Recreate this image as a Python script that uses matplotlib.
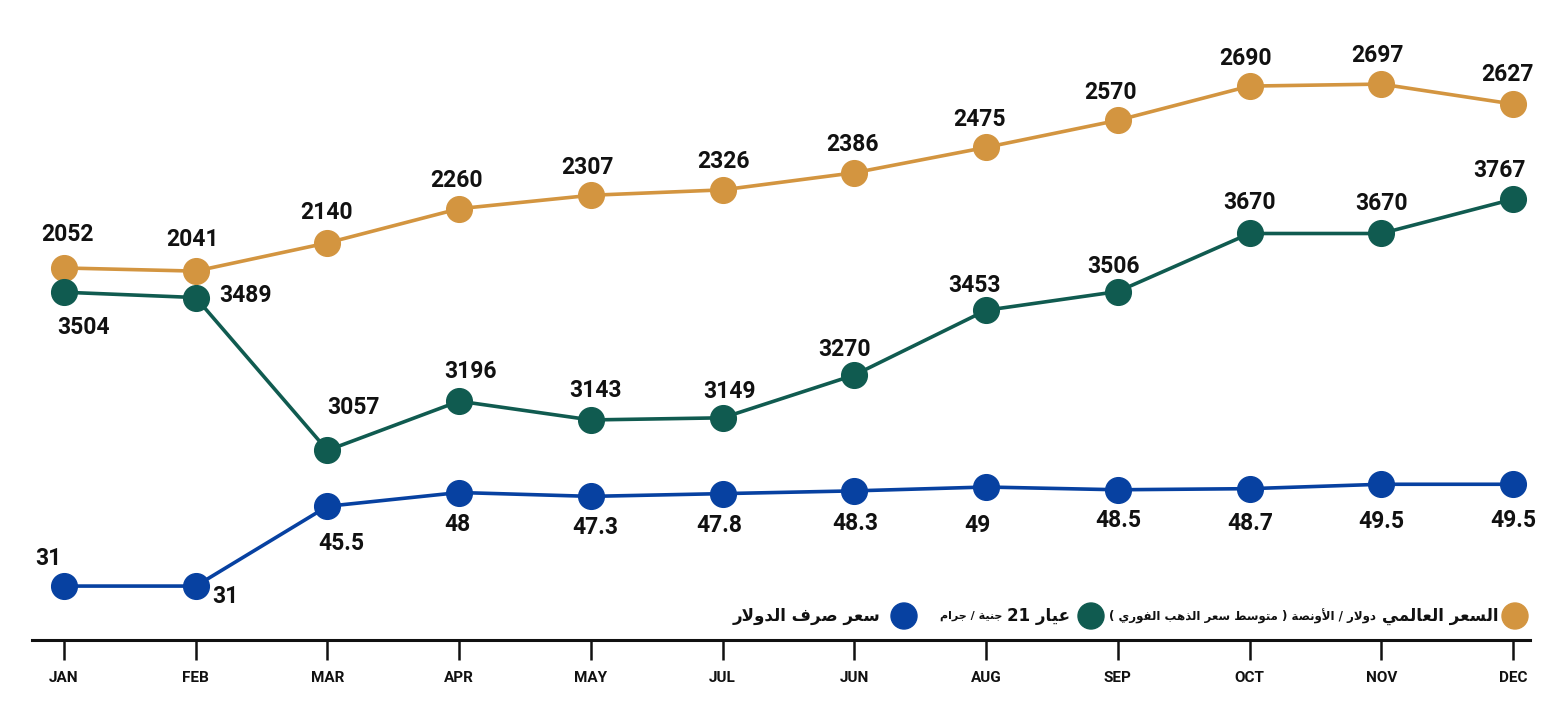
import matplotlib
matplotlib.use("Agg")
import matplotlib.pyplot as plt

# ---------------- data ----------------
months = ["JAN", "FEB", "MAR", "APR", "MAY", "JUL", "JUN", "AUG", "SEP", "OCT", "NOV", "DEC"]
world_price = [2052, 2041, 2140, 2260, 2307, 2326, 2386, 2475, 2570, 2690, 2697, 2627]
gold21_price = [3504, 3489, 3057, 3196, 3143, 3149, 3270, 3453, 3506, 3670, 3670, 3767]
dollar_rate = [31, 31, 45.5, 48, 47.3, 47.8, 48.3, 49, 48.5, 48.7, 49.5, 49.5]
dollar_labels = ["31", "31", "45.5", "48", "47.3", "47.8", "48.3", "49", "48.5", "48.7", "49.5", "49.5"]

legend_world_main = "السعر العالمي"
legend_world_sub = "دولار / الأونصة ( متوسط سعر الذهب الفوري )"
legend_gold_main = "عيار 21"
legend_gold_sub = "جنية / جرام"
legend_dollar = "سعر صرف الدولار"

GOLD = "#D39540"
GREEN = "#105B50"
BLUE = "#0741A1"
INK = "#111111"

# ------------- minimal Arabic shaping (presentation forms) -------------
FORMS = {
    'ا': ('\uFE8D', '\uFE8E', None, None),
    'أ': ('\uFE83', '\uFE84', None, None),
    'ب': ('\uFE8F', '\uFE90', '\uFE91', '\uFE92'),
    'ة': ('\uFE93', '\uFE94', None, None),
    'ت': ('\uFE95', '\uFE96', '\uFE97', '\uFE98'),
    'ج': ('\uFE9D', '\uFE9E', '\uFE9F', '\uFEA0'),
    'د': ('\uFEA9', '\uFEAA', None, None),
    'ذ': ('\uFEAB', '\uFEAC', None, None),
    'ر': ('\uFEAD', '\uFEAE', None, None),
    'س': ('\uFEB1', '\uFEB2', '\uFEB3', '\uFEB4'),
    'ص': ('\uFEB9', '\uFEBA', '\uFEBB', '\uFEBC'),
    'ط': ('\uFEC1', '\uFEC2', '\uFEC3', '\uFEC4'),
    'ع': ('\uFEC9', '\uFECA', '\uFECB', '\uFECC'),
    'ف': ('\uFED1', '\uFED2', '\uFED3', '\uFED4'),
    'ل': ('\uFEDD', '\uFEDE', '\uFEDF', '\uFEE0'),
    'م': ('\uFEE1', '\uFEE2', '\uFEE3', '\uFEE4'),
    'ن': ('\uFEE5', '\uFEE6', '\uFEE7', '\uFEE8'),
    'ه': ('\uFEE9', '\uFEEA', '\uFEEB', '\uFEEC'),
    'و': ('\uFEED', '\uFEEE', None, None),
    'ي': ('\uFEF1', '\uFEF2', '\uFEF3', '\uFEF4'),
}
LAM_ALEF = {'ا': ('\uFEFB', '\uFEFC'), 'أ': ('\uFEF7', '\uFEF8')}
MIRROR = {'(': ')', ')': '('}


def shape_word(word):
    units = []
    i = 0
    while i < len(word):
        c = word[i]
        if c == 'ل' and i + 1 < len(word) and word[i + 1] in LAM_ALEF:
            units.append(('LA', word[i + 1]))
            i += 2
        else:
            units.append((c, None))
            i += 1

    def joins_left(u):
        return u[0] != 'LA' and u[0] in FORMS and FORMS[u[0]][2] is not None

    out = []
    for k, (c, extra) in enumerate(units):
        prev = units[k - 1] if k > 0 else None
        jp = prev is not None and joins_left(prev)
        if c == 'LA':
            out.append(LAM_ALEF[extra][1 if jp else 0])
            continue
        if c not in FORMS:
            out.append(c)
            continue
        f = FORMS[c]
        nxt = units[k + 1] if k + 1 < len(units) else None
        jn = f[2] is not None and nxt is not None and (nxt[0] == 'LA' or nxt[0] in FORMS)
        if jp and jn:
            out.append(f[3])
        elif jp:
            out.append(f[1])
        elif jn:
            out.append(f[2])
        else:
            out.append(f[0])
    return ''.join(out)


def is_arabic(tok):
    return any('\u0600' <= ch <= '\u06FF' for ch in tok)


def visual(text):
    toks = text.split(' ')
    res = []
    for t in toks:
        if is_arabic(t):
            res.append(shape_word(t)[::-1])
        else:
            res.append(MIRROR.get(t, t))
    return ' '.join(res[::-1])


# ---------------- figure ----------------
W, H = 1561, 724
fig = plt.figure(figsize=(W / 100, H / 100), dpi=100)
fig.patch.set_facecolor("white")

ax_left, ax_right, ax_bottom = 32, 1530, 640
rect = [ax_left / W, (H - ax_bottom) / H, (ax_right - ax_left) / W, ax_bottom / H]
ax = fig.add_axes(rect)
x = list(range(len(months)))
px_per = (1513 - 64) / 11
ax.set_xlim(-(64 - ax_left) / px_per, 11 + (ax_right - 1513) / px_per)
ax.set_ylim(0, 1)
for s in ["top", "right", "left"]:
    ax.spines[s].set_visible(False)
ax.spines["bottom"].set_linewidth(2.2)
ax.spines["bottom"].set_color(INK)
ax.set_yticks([])
ax.set_xticks(x)
ax.set_xticklabels(months, fontfamily="Roboto", fontweight="bold", fontsize=11, color=INK)
ax.tick_params(axis="x", length=14.5, width=1.8, color=INK, pad=7.5, direction="out")
ax.patch.set_alpha(0)

lbl_font = dict(fontfamily="Roboto", fontweight="bold", fontsize=16.5, color=INK)


def series(ylim, vals, labels, color, offsets, z):
    a = fig.add_axes(rect, sharex=ax)
    a.set_ylim(*ylim)
    a.axis("off")
    a.patch.set_alpha(0)
    a.plot(x, vals, color=color, lw=2.6, marker="o", markersize=18.5,
           markerfacecolor=color, markeredgecolor=color, zorder=z, clip_on=False,
           solid_capstyle="round")
    for xi, v, lab, (dx, dy) in zip(x, vals, labels, offsets):
        a.annotate(lab, (xi, v), xytext=(dx, -dy), textcoords="offset pixels",
                   ha="center", va="center", annotation_clip=False, **lbl_font)
    return a


# world price (gold)
g_off = [(3, -33), (-3, -32), (-1, -30), (-3, -28), (-3, -28), (1, -28), (-2, -28),
         (-7, -28), (-7, -28), (-4, -28), (-4, -29), (-5, -30)]
series((747, 2992), world_price, [str(v) for v in world_price], GOLD, g_off, 3)

# 21 karat (green)
gr_off = [(19, 35), (50, -2), (26, -43), (11, -30), (5, -29), (7, -26), (-10, -26),
          (-12, -25), (-4, -25), (0, -31), (0, -30), (-14, -29)]
series((2521, 4330), gold21_price, [str(v) for v in gold21_price], GREEN, gr_off, 3)

# dollar rate (blue)
b_off = [(-16, -28), (30, 10), (14, 37), (-2, 32), (4, 31), (-3, 32), (1, 33),
         (-9, 38), (0, 31), (1, 35), (0, 37), (0, 36)]
series((21.2, 137.5), dollar_rate, dollar_labels, BLUE, b_off, 3)

# ---------------- legend ----------------
leg_y = 616
fy = (H - leg_y) / H
renderer = fig.canvas.get_renderer()


def circle(xc, color):
    fig.add_artist(matplotlib.patches.Ellipse((xc / W, fy), 26 / W, 26 / H,
                                              transform=fig.transFigure,
                                              color=color, zorder=5))


def rtext(x_right, s, size):
    t = fig.text(x_right / W, fy, visual(s), ha="right", va="center",
                 fontfamily="DejaVu Sans", fontweight="bold", fontsize=size, color=INK)
    bb = t.get_window_extent(renderer)
    return bb.x0


circle(1515, GOLD)
x0 = rtext(1498, legend_world_main, 12)
rtext(x0 - 6, legend_world_sub, 8.5)

circle(1091, GREEN)
x0 = rtext(1070, legend_gold_main, 12)
rtext(x0 - 5, legend_gold_sub, 8)

circle(904, BLUE)
rtext(880, legend_dollar, 12)

fig.savefig("out.png", dpi=100, facecolor="white")
